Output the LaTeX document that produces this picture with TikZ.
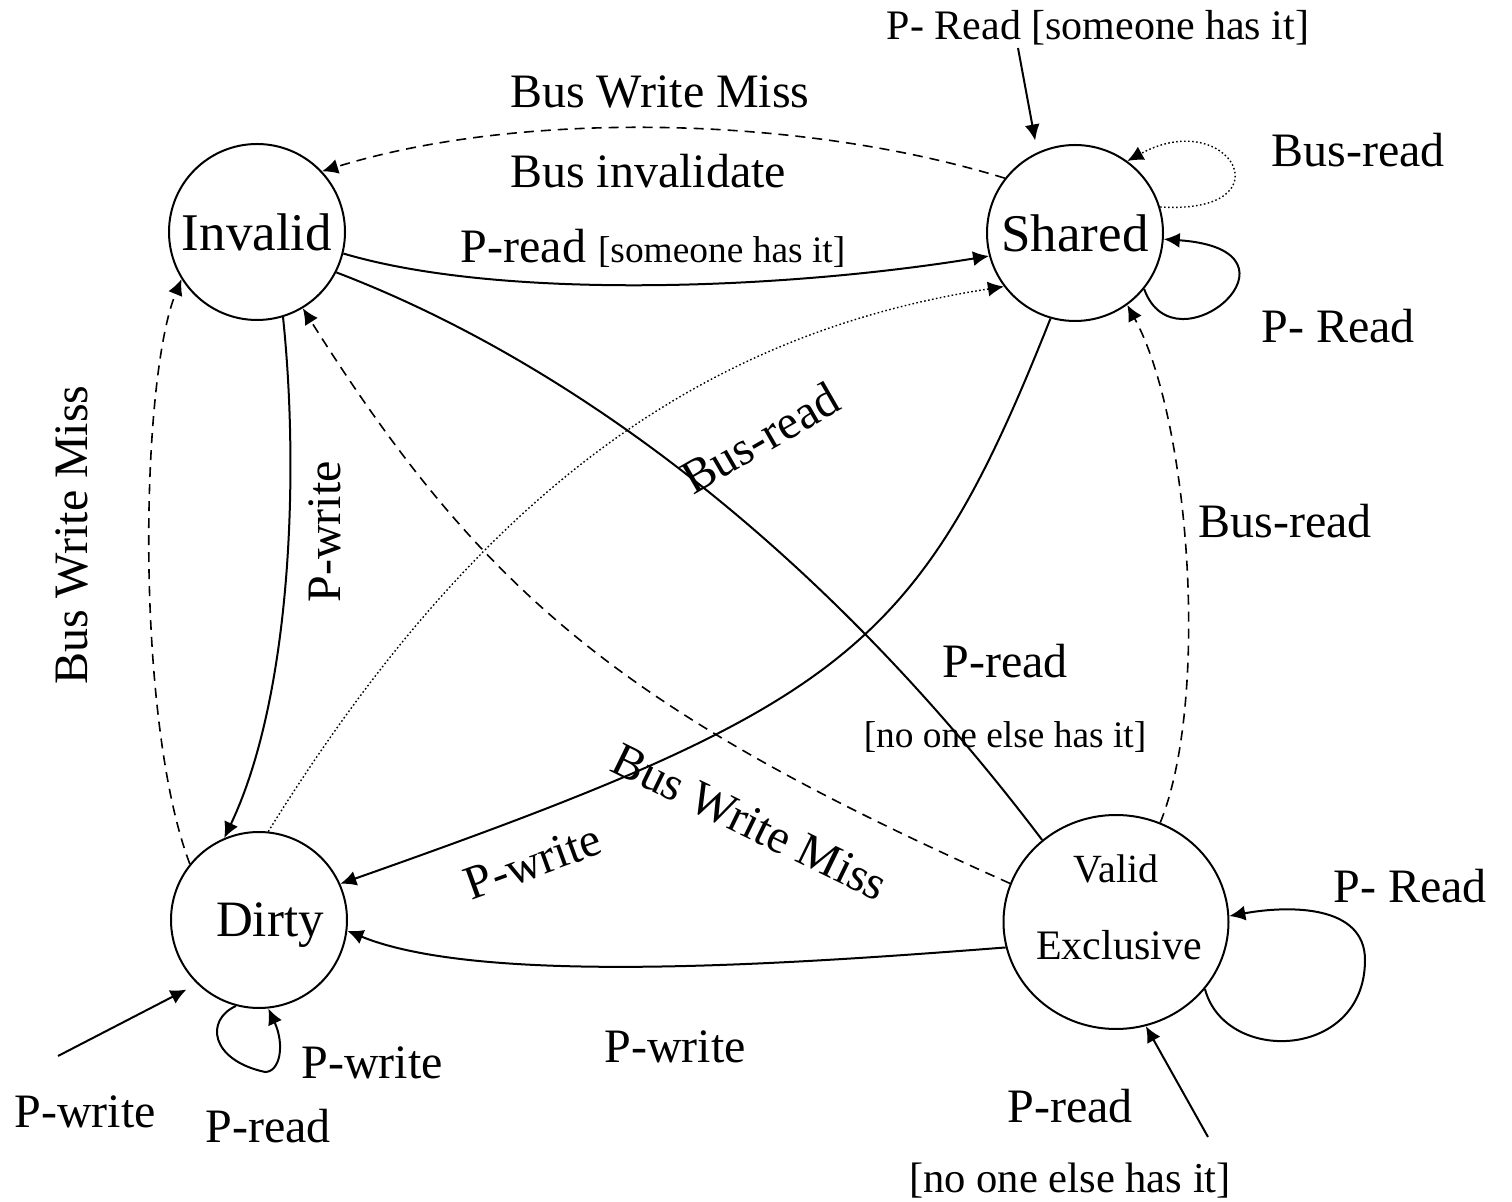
\documentclass[tikz,border=0pt]{standalone}
\usepackage{fontspec}
\setmainfont{Liberation Serif}
\usetikzlibrary{arrows.meta,shapes.geometric}
\begin{document}
\begin{tikzpicture}[x=0.5pt,y=-0.5pt,
  state/.style={circle,draw,line width=1pt,minimum size=88pt,inner sep=0pt},
  lbl/.style={font=\fontsize{24}{28}\selectfont,inner sep=0pt,anchor=base},
  smalllbl/.style={font=\fontsize{18.7}{22}\selectfont,inner sep=0pt,anchor=base},
  midlbl/.style={font=\fontsize{21}{24}\selectfont,inner sep=0pt,anchor=base},
  arr/.style={-{Latex[length=8pt,width=7.5pt]}},
  solidedge/.style={arr,line width=1pt},
  plainedge/.style={line width=1pt},
  dashededge/.style={arr,line width=0.8pt,dash pattern=on 5pt off 3.5pt},
  dottededge/.style={arr,line width=0.7pt,dash pattern=on 0.8pt off 1.2pt},
]
\useasboundingbox (0,0) rectangle (1512,1202);

% states
\node[state,font=\fontsize{26.5}{30}\selectfont] (inv) at (257,232) {Invalid};
\node[state,font=\fontsize{26.5}{30}\selectfont] (sh) at (1075,233) {Shared};
\node[state,font=\fontsize{25.5}{30}\selectfont,text depth=0pt] (dirty) at (259,920) {\hspace*{11pt}Dirty};
\node[draw,ellipse,line width=1pt,minimum width=112.5pt,minimum height=107pt,inner sep=0pt] (ve) at (1116,922) {};
\node[font=\fontsize{20}{24}\selectfont,anchor=base,inner sep=0pt] (veA) at (1116,883) {Valid};
\node[font=\fontsize{21}{24}\selectfont,anchor=base,inner sep=0pt] (veB) at (1119,960) {Exclusive};

% transitions between states
\draw[dashededge] (sh.142) .. controls (800,115) and (520,110) .. (inv.43.5);
\draw[solidedge] (inv.-14.6) .. controls (500,300) and (780,290) .. (sh.-165);
\draw[plainedge] (inv.-27.8) .. controls (540,350) and (800,520) .. (ve.132);
\draw[solidedge] (sh.-106) .. controls (919,649) and (848,705) .. (dirty.24);
\draw[dottededge] (dirty.84) .. controls (476,497) and (698,334) .. (sh.-143);
\draw[dashededge] (ve.160) .. controls (626,712) and (485,597) .. (inv.-59);
\draw[dashededge] (dirty.141.6) .. controls (135,720) and (140,380) .. (inv.-148.7);
\draw[solidedge] (inv.-73) .. controls (300,480) and (290,700) .. (dirty.113);
\draw[dashededge] (ve.66) .. controls (1210,700) and (1190,420) .. (sh.-54.8);
\draw[solidedge] (ve.-167.4) .. controls (780,965) and (480,985) .. (dirty.-7.7);

% self loops
\draw[dottededge] (sh.17.4) .. controls (1290,215) and (1230,105) .. (sh.54);
\draw[solidedge] (sh.-39) .. controls (1175,375) and (1320,250) .. (sh.-4);
\draw[solidedge] (ve.-37.6) .. controls (1225,1065) and (1365,1060) .. (1365,960)
   .. controls (1365,905) and (1290,905) .. (ve.3.5);
\draw[solidedge] (dirty.-105) .. controls (205,1020) and (210,1060) .. (265,1072)
   .. controls (280,1072) and (285,1045) .. (dirty.-84.5);

% initial arrows
\coordinate (sh0) at (1018,48);
\coordinate (d0) at (58,1056);
\coordinate (ve0) at (1208,1137);
\draw[solidedge,shorten >=6pt] (sh0) -- (sh.115);
\draw[solidedge,shorten >=6pt] (d0) -- (dirty.-134.6);
\draw[solidedge] (ve0) -- (ve.-74.6);

% labels
\node[midlbl] (l1) at (1098,40) {P- Read [someone has it]};
\node[lbl] (l2) at (660,108) {Bus Write Miss};
\node[lbl] (l3) at (648,188) {Bus invalidate};
\node[lbl] (l4) at (653,263) {P-read {\fontsize{18.7}{22}\selectfont [someone has it]}};
\node[lbl] (l5) at (1358,167) {Bus-read};
\node[lbl] (l6) at (1338,343) {P- Read};
\node[lbl] (l7) at (1285,538) {Bus-read};
\node[lbl] (l8) at (1005,678) {P-read};
\node[smalllbl] (l9) at (1005,748) {[no one else has it]};
\node[lbl] (l10) at (1410,903) {P- Read};
\node[lbl] (l11) at (372,1079) {P-write};
\node[lbl] (l12) at (268,1143) {P-read};
\node[lbl] (l13) at (85,1128) {P-write};
\node[lbl] (l14) at (675,1063) {P-write};
\node[lbl] (l15) at (1070,1123) {P-read};
\node[font=\fontsize{21.3}{24}\selectfont,inner sep=0pt,anchor=base] (l16) at (1070,1193) {[no one else has it]};
\node[font=\fontsize{24}{28}\selectfont,inner sep=0pt,rotate=30] (l17) at (760,438) {Bus-read};
\node[font=\fontsize{24}{28}\selectfont,inner sep=0pt,rotate=-26] (l18) at (750,822) {Bus Write Miss};
\node[font=\fontsize{24}{28}\selectfont,inner sep=0pt,rotate=20] (l19) at (533,862) {P-write};
\node[font=\fontsize{24}{28}\selectfont,inner sep=0pt,rotate=90] (l20) at (72,535) {Bus Write Miss};
\node[font=\fontsize{24}{28}\selectfont,inner sep=0pt,rotate=90] (l21) at (325,532) {P-write};
\end{tikzpicture}
\end{document}
